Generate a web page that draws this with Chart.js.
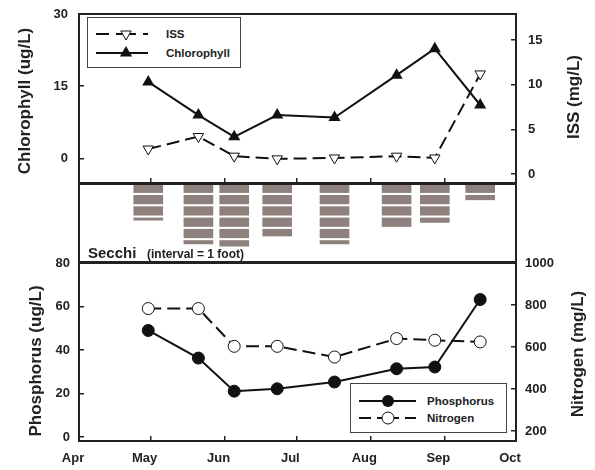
<!DOCTYPE html>
<html>
<head>
<meta charset="utf-8">
<script src="https://cdn.jsdelivr.net/npm/chart.js@4.4.1/dist/chart.umd.min.js"></script>
<style>
  body { margin: 0; background: #fff; }
  #wrap { position: relative; width: 595px; height: 470px; background: #fff;
          font-family: "Liberation Sans", Arial, sans-serif; font-weight: bold; color: #222; }
  canvas { position: absolute; left: 0; }
  .lg { position: absolute; box-sizing: border-box; border: 1px solid #444; background: #fff; }
  .lg svg { position: absolute; left: 0; top: 0; }
  .lg span { position: absolute; font-size: 11.5px; line-height: 14px; white-space: nowrap; }
  .ytitle { position: absolute; font-size: 17px; white-space: nowrap;
            transform: translate(-50%, -50%) rotate(-90deg); }
  .note { position: absolute; white-space: nowrap; }
</style>
</head>
<body>
<div id="wrap">
  <canvas id="topChart" width="595" height="184" style="top:0"></canvas>
  <canvas id="midChart" width="595" height="80" style="top:183px"></canvas>
  <canvas id="botChart" width="595" height="220" style="top:250px"></canvas>

  <div class="ytitle" style="left:25px;top:101px">Chlorophyll (ug/L)</div>
  <div class="ytitle" style="left:574px;top:97px">ISS (mg/L)</div>
  <div class="ytitle" style="left:36px;top:361px">Phosphorus (ug/L)</div>
  <div class="ytitle" style="left:578px;top:354px">Nitrogen (mg/L)</div>

  <div class="note" style="left:88px;top:245px;font-size:15px;line-height:15px">Secchi</div>
  <div class="note" style="left:147px;top:248px;font-size:12px;line-height:12px">(interval = 1 foot)</div>

  <div class="lg" style="left:87px;top:17px;width:154px;height:51px">
    <svg width="152" height="49">
      <g stroke="#111" stroke-width="2">
        <line x1="8" y1="16" x2="21" y2="16"/>
        <line x1="28" y1="16" x2="48" y2="16"/>
        <line x1="55" y1="16" x2="60" y2="16"/>
        <line x1="8" y1="35" x2="60" y2="35"/>
      </g>
      <polygon points="38,22 32.8,13 43.2,13" fill="#fff" stroke="#111" stroke-width="1"/>
      <polygon points="38,28 31.9,38.5 44.1,38.5" fill="#111"/>
    </svg>
    <span style="left:78px;top:9px">ISS</span>
    <span style="left:78px;top:28px">Chlorophyll</span>
  </div>

  <div class="lg" style="left:350px;top:383px;width:157px;height:50px">
    <svg width="155" height="48">
      <g stroke="#111" stroke-width="2">
        <line x1="8" y1="17" x2="65" y2="17"/>
        <line x1="8" y1="34" x2="20" y2="34"/>
        <line x1="26" y1="34" x2="48" y2="34"/>
        <line x1="54" y1="34" x2="65" y2="34"/>
      </g>
      <circle cx="37" cy="17" r="6" fill="#111"/>
      <circle cx="37" cy="34" r="6" fill="#fff" stroke="#111" stroke-width="1"/>
    </svg>
    <span style="left:76px;top:10px">Phosphorus</span>
    <span style="left:76px;top:27px">Nitrogen</span>
  </div>
</div>

<script>
// sampling dates, as day of the year
const sampleDays = [120, 141, 156, 174, 198, 224, 240, 259];
const monthStarts = [91, 121, 152, 182, 213, 244, 274];
const monthLabels = ["Apr", "May", "Jun", "Jul", "Aug", "Sep", "Oct"];

const chlorophyll = [15.9, 9.0, 4.5, 9.0, 8.5, 17.3, 22.8, 11.1];
const iss = [2.8, 4.2, 2.0, 1.7, 1.8, 2.0, 1.8, 11.2];
// secchi depth in feet
const secchi = [3.2, 5.3, 5.5, 4.6, 5.3, 4.0, 3.4, 1.4];
const phosphorus = [49, 36.3, 21.1, 22.2, 25.3, 31.4, 32.2, 63.2];
const nitrogen = [783, 783, 603, 603, 552, 640, 632, 624];

const chlTicks = [0, 15, 30];
const issTicks = [0, 5, 10, 15];
const phosTicks = [0, 20, 40, 60, 80];
const nitroTicks = [200, 400, 600, 800, 1000];

Chart.defaults.font.family = '"Liberation Sans", Arial, sans-serif';
Chart.defaults.font.weight = "bold";
Chart.defaults.font.size = 13;
Chart.defaults.color = "#222";
Chart.defaults.animation = false;
Chart.defaults.plugins.legend.display = false;
Chart.defaults.plugins.tooltip.enabled = false;

const frame = {
  id: "frame",
  afterDraw(chart) {
    const { ctx, chartArea: a } = chart;
    ctx.save();
    ctx.strokeStyle = "#222";
    ctx.lineWidth = 2;
    ctx.strokeRect(a.left, a.top, a.right - a.left, a.bottom - a.top);
    ctx.restore();
  },
};

const pts = (vals) => sampleDays.map((d, i) => ({ x: d, y: vals[i] }));

// the axes must not push the plot area around, the panels are lined up by hand
function noPad(s) {
  s.paddingTop = 0;
  s.paddingBottom = 0;
  s.paddingLeft = 0;
  s.paddingRight = 0;
}

function xAxis(showLabels, height) {
  return {
    type: "linear",
    min: 91,
    max: 274,
    offset: false,
    afterBuildTicks: (s) => { s.ticks = monthStarts.map((v) => ({ value: v })); },
    afterFit: (s) => { s.height = height; noPad(s); },
    border: { display: false },
    grid: { drawOnChartArea: false, drawTicks: true, tickLength: -5, color: "#222", lineWidth: 1.5 },
    ticks: {
      display: showLabels, autoSkip: false, maxRotation: 0, padding: 15, labelOffset: -6,
      callback: (v, i) => monthLabels[i],
    },
  };
}

function yAxis(pos, min, max, tickVals, pad) {
  return {
    type: "linear",
    position: pos,
    min: min,
    max: max,
    afterBuildTicks: (s) => { s.ticks = tickVals.map((v) => ({ value: v })); },
    afterFit: (s) => { s.width = 79; noPad(s); },
    border: { display: false },
    grid: { drawOnChartArea: false, drawTicks: true, tickLength: -5, color: "#222", lineWidth: 1.5 },
    ticks: { padding: pad, callback: (v) => String(v) },
  };
}

new Chart(document.getElementById("topChart"), {
  type: "line",
  data: {
    datasets: [
      {
        label: "ISS",
        data: pts(iss),
        yAxisID: "y2",
        borderColor: "#111",
        borderWidth: 2,
        borderDash: [13, 6],
        pointStyle: "triangle",
        pointRotation: 180,
        pointRadius: 6,
        pointBackgroundColor: "#fff",
        pointBorderColor: "#111",
        pointBorderWidth: 1,
      },
      {
        label: "Chlorophyll",
        data: pts(chlorophyll),
        yAxisID: "y",
        borderColor: "#111",
        borderWidth: 2,
        pointStyle: "triangle",
        pointRadius: 7,
        pointBackgroundColor: "#111",
        pointBorderColor: "#111",
        pointBorderWidth: 0,
      },
    ],
  },
  options: {
    responsive: false,
    layout: { autoPadding: false, padding: { top: 14, left: 0, right: 0, bottom: 0 } },
    scales: {
      x: xAxis(false, 1),
      y: yAxis("left", -5.1, 30, chlTicks, 16),
      y2: yAxis("right", -1.0, 17.9, issTicks, 17),
    },
  },
  plugins: [frame],
});

const secchiSets = [];
for (let k = 0; k < 6; k++) {
  secchiSets.push({
    label: "Secchi " + (k + 1),
    data: sampleDays
      .map((d, i) => ({ x: d, y: [k, Math.min(secchi[i], k + 0.76)] }))
      .filter((p, i) => secchi[i] > k),
    backgroundColor: "#8e817d",
    borderWidth: 0,
    barThickness: 29,
    grouped: false,
  });
}

new Chart(document.getElementById("midChart"), {
  type: "bar",
  data: { datasets: secchiSets },
  options: {
    responsive: false,
    layout: { autoPadding: false, padding: { top: 1, bottom: 1, left: 79, right: 79 } },
    scales: {
      x: { type: "linear", min: 91, max: 274, offset: false, display: false },
      y: { min: 0, max: 6.9, reverse: true, display: false },
    },
  },
  plugins: [frame],
});

new Chart(document.getElementById("botChart"), {
  type: "line",
  data: {
    datasets: [
      {
        label: "Phosphorus",
        data: pts(phosphorus),
        yAxisID: "y",
        borderColor: "#111",
        borderWidth: 2,
        pointRadius: 6,
        pointBackgroundColor: "#111",
        pointBorderColor: "#111",
        pointBorderWidth: 1,
      },
      {
        label: "Nitrogen",
        data: pts(nitrogen),
        yAxisID: "y2",
        borderColor: "#111",
        borderWidth: 2,
        borderDash: [13, 6],
        pointRadius: 6,
        pointBackgroundColor: "#fff",
        pointBorderColor: "#111",
        pointBorderWidth: 1,
      },
    ],
  },
  options: {
    responsive: false,
    layout: { autoPadding: false, padding: { top: 13, left: 0, right: 0, bottom: 0 } },
    scales: {
      x: xAxis(true, 29),
      y: yAxis("left", -1.8, 80, phosTicks, 14),
      y2: yAxis("right", 152, 1000, nitroTicks, 14),
    },
  },
  plugins: [frame],
});
</script>
</body>
</html>
